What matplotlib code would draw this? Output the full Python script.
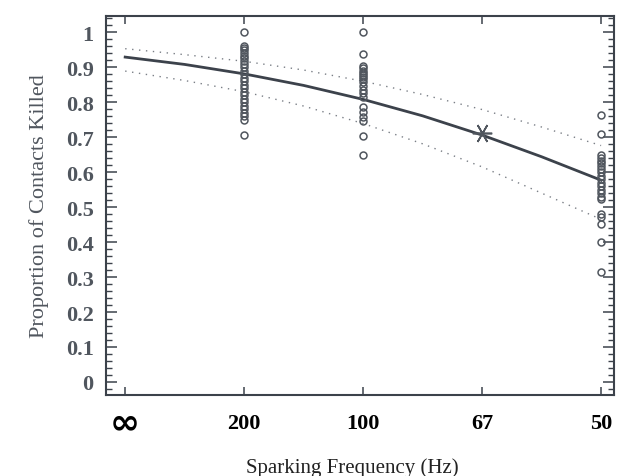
import numpy as np
import matplotlib
matplotlib.use("Agg")
import matplotlib.pyplot as plt
from matplotlib.ticker import MultipleLocator

plt.rcParams['font.family'] = ['Liberation Serif', 'DejaVu Serif']

# x 轴按周期(ms)等距: inf->0, 200Hz->5, 100Hz->10, 67Hz->15, 50Hz->20
tick_pos = [0, 5, 10, 15, 20]
tick_labels = ['∞', '200', '100', '67', '50']

# 拟合曲线和置信带
curve_t = [0, 2.5, 5, 7.5, 10, 12.5, 15, 17.5, 20]
fit = [0.929, 0.908, 0.881, 0.848, 0.808, 0.761, 0.706, 0.644, 0.577]
upper = [0.953, 0.936, 0.917, 0.892, 0.860, 0.822, 0.779, 0.729, 0.676]
lower = [0.889, 0.862, 0.830, 0.789, 0.739, 0.681, 0.615, 0.540, 0.465]

# 观测点
obs_200 = [1.0, 0.962, 0.955, 0.948, 0.94, 0.933, 0.925, 0.918, 0.91, 0.90, 0.89,
           0.88, 0.87, 0.86, 0.85, 0.84, 0.83, 0.82, 0.81, 0.80, 0.79, 0.78,
           0.77, 0.76, 0.75, 0.705]
obs_100 = [1.0, 0.937, 0.903, 0.897, 0.89, 0.884, 0.878, 0.872, 0.865, 0.857,
           0.845, 0.835, 0.825, 0.814, 0.786, 0.771, 0.757, 0.746, 0.703, 0.649]
obs_50 = [0.763, 0.709, 0.65, 0.64, 0.633, 0.625, 0.617, 0.61, 0.60, 0.59, 0.58,
          0.57, 0.56, 0.55, 0.54, 0.53, 0.523, 0.48, 0.471, 0.451, 0.40, 0.314]

# 67Hz 处的 * 号
star_t, star_y = 15, 0.711

dark = '#3c424b'
grey = '#50565e'

fig = plt.figure(figsize=(6.28, 4.77), dpi=100)
ax = fig.add_axes([0.169, 0.170, 0.809, 0.794])

ax.plot(curve_t, fit, color=dark, lw=2.0, zorder=3)
ax.plot(curve_t, upper, color='#7a7f86', lw=1.0, ls=(0, (1, 4)), zorder=2)
ax.plot(curve_t, lower, color='#7a7f86', lw=1.0, ls=(0, (1, 4)), zorder=2)

for t, ys in [(5, obs_200), (10, obs_100), (20, obs_50)]:
    ax.plot([t] * len(ys), ys, 'o', ms=5, mfc='none', mec=grey, mew=1.1, zorder=4)

ax.plot(star_t, star_y, marker=(6, 2, 90), ms=14, color=grey, mew=1.2, zorder=5)

ax.set_xlim(-0.8, 20.55)
ax.set_ylim(-0.037, 1.046)

ax.set_xticks(tick_pos)
ax.set_xticklabels(tick_labels, fontsize=16, fontweight='bold', color='black')
for lab in ax.get_xticklabels():
    lab.set_verticalalignment('center')
inf_lab = ax.get_xticklabels()[0]
inf_lab.set_fontfamily('DejaVu Sans')
inf_lab.set_fontsize(26)
ax.yaxis.set_major_locator(MultipleLocator(0.1))
ax.yaxis.set_minor_locator(MultipleLocator(0.02))
ax.set_yticks(np.arange(0, 1.01, 0.1))
ax.set_yticklabels(['0'] + [f'{v:.1f}' for v in np.arange(0.1, 0.95, 0.1)] + ['1'],
                   fontsize=16, fontweight='bold', color=grey)

ax.tick_params(axis='x', which='major', direction='in', length=6, width=1.1,
               color=dark, top=True, pad=20)
ax.tick_params(axis='y', which='major', direction='in', length=8, width=1.1,
               color=dark, right=True, pad=9)
ax.tick_params(axis='y', which='minor', direction='in', length=4, width=1.0,
               color=dark, right=True)

for s in ax.spines.values():
    s.set_color(dark)
    s.set_linewidth(1.5)

ax.set_ylabel('Proportion of Contacts Killed', fontsize=16, color=grey, labelpad=12)
ax.set_xlabel('Sparking Frequency (Hz)', fontsize=15, color='#222222')
ax.xaxis.set_label_coords(0.484, -0.165)

fig.savefig('out.png', dpi=100)
